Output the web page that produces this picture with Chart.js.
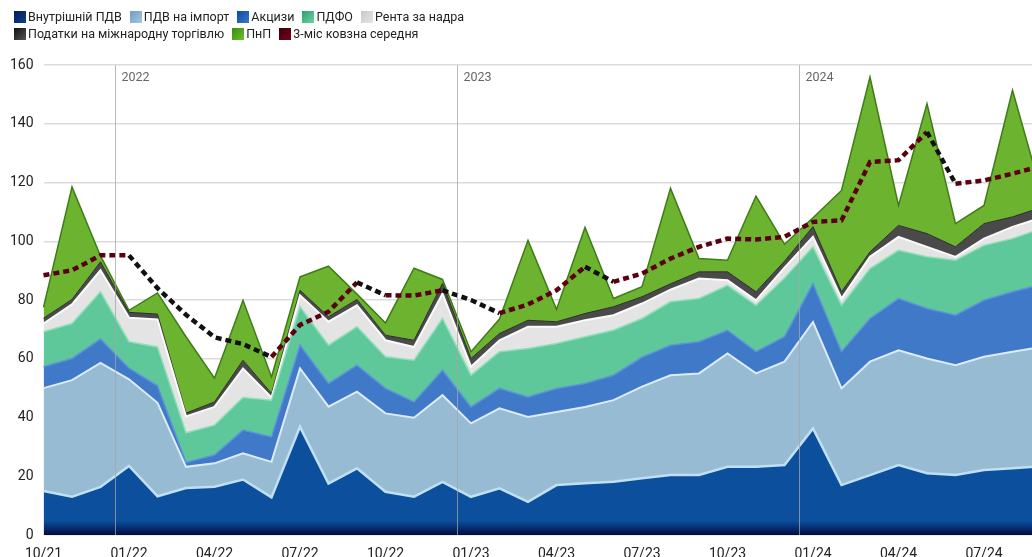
<!DOCTYPE html>
<html lang="uk">
<head>
<meta charset="utf-8">
<title>Податкові надходження</title>
<script src="https://cdn.jsdelivr.net/npm/chart.js@4.4.1/dist/chart.umd.min.js"></script>
<style>
  html, body { margin: 0; padding: 0; background: #fff; overflow: hidden; }
  #wrap { position: relative; width: 1046px; height: 557px; }
  #legend {
    position: absolute; left: 14px; top: 9px; width: 470px;
    display: flex; flex-wrap: wrap;
    font: 12.5px Roboto, sans-serif; color: #222; line-height: 16.5px;
  }
  .item { display: flex; align-items: center; margin-right: 8px; white-space: nowrap; }
  .box { width: 12px; height: 12px; margin-right: 2px; }
</style>
</head>
<body>
<div id="wrap">
  <canvas id="taxChart" width="1046" height="557"></canvas>
  <div id="legend"></div>
</div>
<script>
// місяці
const months = ['10/21','11/21','12/21','01/22','02/22','03/22','04/22','05/22','06/22','07/22','08/22','09/22',
                '10/22','11/22','12/22','01/23','02/23','03/23','04/23','05/23','06/23','07/23','08/23','09/23',
                '10/23','11/23','12/23','01/24','02/24','03/24','04/24','05/24','06/24','07/24','08/24','09/24'];

// надходження, млрд грн
const vatDomestic = [15.0,13.0,16.4,23.5,13.2,16.0,16.4,18.9,12.8,36.8,17.5,22.7,14.7,13.0,18.1,13.0,15.9,11.3,17.0,17.6,18.1,19.3,20.4,20.4,23.2,23.2,23.8,36.3,17.0,20.4,23.8,21.0,20.4,22.1,22.7,23.4];
const vatImport   = [35.0,39.7,42.2,29.5,31.8,7.2,8.0,8.9,12.1,19.9,26.2,26.1,26.7,26.9,29.5,25.0,27.2,28.9,24.9,26.0,27.8,31.2,34.0,34.6,38.6,31.8,35.2,36.2,32.9,38.6,39.1,39.1,37.4,38.6,39.7,40.6];
const excise      = [7.3,7.4,8.1,3.8,5.8,1.5,2.8,7.9,8.5,7.9,7.9,9.0,8.5,5.4,8.5,5.6,6.8,6.8,8.0,8.0,8.5,10.0,10.2,10.8,7.9,7.4,8.5,13.1,12.5,14.7,17.6,17.0,17.0,19.2,20.4,21.3];
const pit         = [11.9,11.9,16.1,9.0,13.2,10.1,10.2,11.1,12.5,13.1,13.0,13.1,10.8,14.2,17.6,10.8,12.5,16.5,15.3,15.9,15.3,13.2,14.8,14.7,15.3,15.8,20.0,12.5,15.8,17.0,16.4,17.6,18.7,18.7,18.1,19.0];
const rent        = [2.8,6.5,7.3,8.2,9.4,5.6,6.2,9.9,0.9,3.9,8.0,7.3,5.6,4.5,8.5,2.9,3.9,7.4,5.7,5.6,5.1,5.1,4.1,6.8,1.7,1.7,3.5,3.4,2.3,4.0,4.6,3.4,1.2,2.3,4.0,3.7];
const trade       = [1.8,1.7,2.9,1.8,1.8,1.1,1.7,2.8,1.4,1.7,1.7,2.0,1.7,2.3,3.5,2.8,2.3,2.2,1.7,2.3,2.9,2.3,2.0,2.3,2.9,2.9,2.2,3.5,2.3,1.7,3.9,4.5,3.4,5.1,3.4,3.5];
const profitTax   = [3.7,38.3,2.0,0.7,7.2,26.0,8.1,20.4,5.6,4.6,17.2,1.8,4.2,24.5,1.3,2.3,4.9,27.2,4.2,29.3,2.8,3.4,32.5,4.5,3.9,32.6,5.8,3.0,34.5,59.5,6.8,44.2,7.9,6.2,43.1,5.5];
const movingAvg   = [88.4,90.1,95.2,95.2,84.0,75.0,67.3,65.0,60.6,71.5,76.0,86.0,81.6,81.5,83.3,80.0,75.5,78.5,83.3,91.3,86.2,89.0,94.1,98.1,100.9,100.6,101.5,106.6,107.1,127.0,127.6,137.2,119.6,120.7,123.0,125.6];

// темно-синій з затемненням донизу
function navyFill(context) {
  const chart = context.chart;
  const area = chart.chartArea;
  if (!area) return '#0c4f9d';
  const g = chart.ctx.createLinearGradient(0, area.bottom, 0, area.bottom - 14);
  g.addColorStop(0, '#020c40');
  g.addColorStop(1, '#0c4f9d');
  return g;
}

function area(label, data, fill, bg, line, width, key) {
  return {
    label, data, fill,
    backgroundColor: bg,
    borderColor: line,
    borderWidth: width,
    pointRadius: 0,
    tension: 0,
    stack: 'tax',
    order: 1,
    legendKey: key
  };
}

const datasets = [
  area('Внутрішній ПДВ', vatDomestic, 'origin', navyFill, '#bfe0f5', 2.5, ['#031a55', '#0b3f8c']),
  area('ПДВ на імпорт', vatImport, '-1', '#98bbd4', '#dcebf6', 2, ['#6f9cc2', '#a9c7de']),
  area('Акцизи', excise, '-1', '#4079c8', '#5d93dc', 1.5, ['#0e4aa0', '#3a78cc']),
  area('ПДФО', pit, '-1', '#5ec89a', '#8ee0bb', 1.5, ['#2ea06c', '#6bd3a3']),
  area('Рента за надра', rent, '-1', '#e4e4e4', '#fbfbfb', 2, ['#c8c8c8', '#e6e6e6']),
  area('Податки на міжнародну торгівлю', trade, '-1', '#4a4a4a', '#2e2e2e', 1, ['#111', '#555']),
  area('ПнП', profitTax, '-1', '#6cb42f', '#3e7c17', 1.5, ['#3b8a12', '#6cc02e']),
  {
    label: '3-міс ковзна середня',
    data: movingAvg,
    stack: 'ma',
    fill: false,
    order: 0,
    borderWidth: 4.5,
    borderDash: [6, 4],
    borderColor: '#5c0011',
    pointRadius: 0,
    tension: 0,
    segment: {
      borderColor: ctx => ctx.p1.parsed.y < ctx.p0.parsed.y - 0.5 ? '#111111' : '#5c0011'
    },
    legendKey: ['#3a000a', '#7a0018']
  }
];

// вертикальні лінії на початку року
const yearLines = {
  id: 'yearLines',
  afterDatasetsDraw(chart) {
    const { ctx, chartArea: { top, bottom }, scales: { x } } = chart;
    months.forEach((m, i) => {
      if (i === 0 || !m.startsWith('01/')) return;
      const px = Math.round(x.getPixelForValue(i - 0.5)) + 0.5;
      ctx.save();
      ctx.strokeStyle = 'rgba(165,165,165,0.75)';
      ctx.lineWidth = 1;
      ctx.beginPath();
      ctx.moveTo(px, top);
      ctx.lineTo(px, bottom);
      ctx.stroke();
      ctx.fillStyle = '#666';
      ctx.font = '12.5px Roboto';
      ctx.textBaseline = 'middle';
      ctx.fillText('20' + m.slice(3), px + 6, top + 13);
      ctx.restore();
    });
  }
};

const chart = new Chart(document.getElementById('taxChart'), {
  type: 'line',
  data: { labels: months, datasets },
  options: {
    responsive: false,
    animation: false,
    layout: { padding: { top: 65, right: 5, left: 0, bottom: 0 } },
    plugins: {
      legend: { display: false },
      tooltip: { enabled: false }
    },
    scales: {
      x: {
        grid: { display: false },
        border: { display: false },
        afterFit: s => { s.height = 22; },
        ticks: {
          autoSkip: false,
          maxRotation: 0,
          minRotation: 0,
          padding: 3,
          color: '#222',
          font: { family: 'Roboto', size: 14 },
          callback: (v, i) => (i % 3 === 0 ? months[i] : '')
        }
      },
      y: {
        stacked: true,
        min: 0,
        max: 160,
        afterFit: s => { s.width = 43.5; },
        grid: { color: '#dcdcdc', lineWidth: 1.5, drawTicks: false },
        border: { display: false },
        ticks: {
          stepSize: 20,
          padding: 10,
          color: '#222',
          font: { family: 'Roboto', size: 14 }
        }
      }
    }
  },
  plugins: [yearLines]
});

// легенда
const legendEl = document.getElementById('legend');
chart.data.datasets.forEach(ds => {
  const item = document.createElement('div');
  item.className = 'item';
  const box = document.createElement('span');
  box.className = 'box';
  box.style.background = 'linear-gradient(135deg, ' + ds.legendKey[0] + ', ' + ds.legendKey[1] + ')';
  const text = document.createElement('span');
  text.textContent = ds.label;
  item.appendChild(box);
  item.appendChild(text);
  legendEl.appendChild(item);
});
</script>
</body>
</html>
